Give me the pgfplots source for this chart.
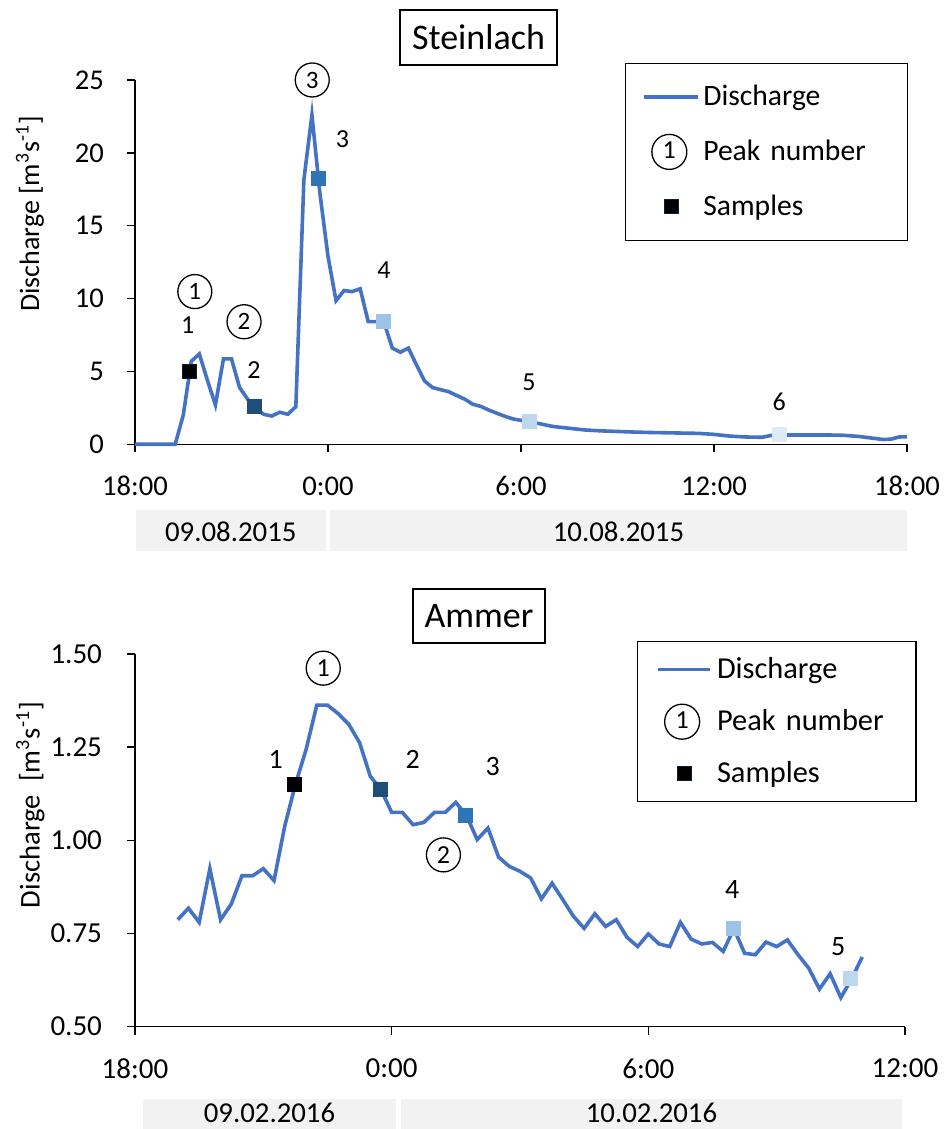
\documentclass[border=0pt]{standalone}
\usepackage{pgfplots}
\pgfplotsset{compat=1.18}
\usepackage{fontspec}
\setmainfont{Carlito}

\definecolor{qline}{HTML}{4472C4}
\definecolor{sB}{HTML}{1F4E79}
\definecolor{sC}{HTML}{2E75B6}
\definecolor{sD}{HTML}{9DC3E6}
\definecolor{sE}{HTML}{BDD7EE}
\definecolor{sF}{HTML}{DEEBF7}
\definecolor{navy}{HTML}{0B1F3A}
\definecolor{datebox}{HTML}{F2F2F2}

% discharge series, hours after 18:00 of the first day
\pgfplotstableread{
h q
0 0
0.25 0
0.5 0
0.75 0
1.0 0
1.25 0
1.5 2.0
1.75 5.7
2.0 6.2
2.25 4.4
2.5 2.7
2.75 5.86
3.0 5.86
3.25 3.9
3.5 3.1
3.75 2.45
4.0 2.06
4.25 1.94
4.5 2.2
4.75 2.06
5.0 2.58
5.25 18.15
5.5 22.6
5.75 17.2
6.0 12.9
6.25 9.86
6.5 10.55
6.75 10.48
7.0 10.67
7.25 8.42
7.5 8.42
7.75 8.3
8.0 6.6
8.25 6.32
8.5 6.6
8.75 5.45
9.0 4.35
9.25 3.89
9.5 3.75
9.75 3.61
10.0 3.35
10.25 3.1
10.5 2.75
10.75 2.6
11.0 2.35
11.25 2.13
11.5 1.92
11.75 1.74
12.0 1.64
12.25 1.55
12.5 1.45
12.75 1.33
13.0 1.22
13.5 1.10
14.0 0.98
14.5 0.92
15.0 0.88
15.5 0.84
16.0 0.81
16.5 0.79
17.0 0.77
17.5 0.75
18.0 0.68
18.5 0.56
19.0 0.50
19.5 0.48
19.75 0.60
20.0 0.64
20.5 0.64
21.0 0.64
21.5 0.64
22.0 0.62
22.5 0.54
23.0 0.40
23.25 0.33
23.5 0.35
23.75 0.50
24.0 0.52
}\steinlach

\pgfplotstableread{
h q
1.00 0.787
1.25 0.818
1.50 0.780
1.75 0.924
2.00 0.787
2.25 0.829
2.50 0.905
2.75 0.905
3.00 0.924
3.25 0.892
3.50 1.038
3.75 1.150
4.00 1.244
4.25 1.363
4.50 1.363
4.75 1.340
5.00 1.311
5.25 1.262
5.50 1.172
5.75 1.136
6.00 1.075
6.25 1.075
6.50 1.042
6.75 1.048
7.00 1.075
7.25 1.075
7.50 1.102
7.75 1.066
8.00 1.002
8.25 1.033
8.50 0.955
8.75 0.930
9.00 0.917
9.25 0.899
9.50 0.843
9.75 0.885
10.00 0.841
10.25 0.796
10.50 0.764
10.75 0.803
11.00 0.769
11.25 0.787
11.50 0.740
11.75 0.715
12.00 0.749
12.25 0.722
12.50 0.715
12.75 0.780
13.00 0.735
13.25 0.722
13.50 0.726
13.75 0.702
14.00 0.763
14.25 0.697
14.50 0.693
14.75 0.727
15.00 0.715
15.25 0.733
15.50 0.693
15.75 0.657
16.00 0.601
16.25 0.642
16.50 0.578
16.75 0.628
17.00 0.687
}\ammer

\tikzset{
  peak/.style={circle, draw, line width=0.65pt, inner sep=0pt,
    minimum size=16.5pt, text width=, anchor=center},
}
\pgfplotsset{
  hydro/.style={
    scale only axis,
    anchor=south west,
    axis lines*=left,
    axis line style={-, black, line width=0.7pt},
    tick style={black, line width=0.7pt},
    tick align=outside,
    major tick length=4pt,
    clip=false,
    /pgf/number format/assume math mode=true,
    legend cell align=left,
  },
  sample/.style={only marks, mark=square*, mark size=3.5pt,
    mark options={fill=#1, draw=#1, line width=0.5pt}, forget plot},
}

\newcommand{\legendimages}[1]{%
  \addlegendimage{legend image code/.code={%
    \draw[qline, line width=1.8pt] (0pt,0pt) -- (#1,0pt);}}
  \addlegendentry{Discharge}
  \addlegendimage{legend image code/.code={%
    \path[draw=none, fill=none] (0pt,0pt) (#1,0pt);
    \node[peak, draw=black, minimum height=17.5pt, minimum width=17.5pt,
      font=\fontsize{13}{13}\selectfont] at (0.46*#1,0pt) {1};}}
  \addlegendentry{Peak number}
  \addlegendimage{legend image code/.code={%
    \path[draw=none, fill=none] (0pt,0pt) (#1,0pt);
    \path plot[only marks, mark=square*, mark size=3.5pt,
      mark options={fill=black, draw=navy, line width=0.6pt}]
      coordinates {(0.5*#1,0pt)};}}
  \addlegendentry{Samples}
}

\begin{document}
\begin{tikzpicture}
\path[use as bounding box] (0,0) rectangle (473pt,564.5pt);

% ---------------- Steinlach ----------------
\begin{axis}[hydro,
  at={(67.5pt,342.35pt)}, width=386pt, height=182.15pt,
  xmin=0, xmax=24, ymin=0, ymax=25,
  xtick={0,6,12,18,24}, xticklabels={18:00,0:00,6:00,12:00,18:00},
  ytick={0,5,10,15,20,25},
  ticklabel style={font=\fontsize{14.3}{16}\selectfont},
  xticklabel style={anchor=center, yshift=-17pt},
  yticklabel style={anchor=east, xshift=-8pt},
  ylabel={Discharge [m\textsuperscript{3}s\textsuperscript{-1}]},
  ylabel style={at={(axis description cs:-0.136,0.632)}, anchor=center,
    font=\fontsize{14}{16}\selectfont},
  legend style={at={(axis description cs:0.6347,1.0475)}, anchor=north west,
    draw=black, line width=0.7pt, inner xsep=8.5pt, inner ysep=3pt,
    row sep=0pt, font=\fontsize{14.8}{16}\selectfont,
    /tikz/every odd column/.append style={column sep=1.5pt},
    nodes={inner sep=0pt, minimum height=27.5pt, text width=93.5pt, anchor=west}},
]
\legendimages{27pt}
\addplot[qline, line width=1.8pt, forget plot] table[x=h, y=q] {\steinlach};

\addplot[sample=black, mark options={draw=navy}] coordinates {(1.69,5.0)};
\addplot[sample=sB] coordinates {(3.70,2.58)};
\addplot[sample=sC] coordinates {(5.70,18.27)};
\addplot[sample=sD] coordinates {(7.72,8.42)};
\addplot[sample=sE] coordinates {(12.26,1.55)};
\addplot[sample=sF] coordinates {(20.03,0.64)};

\begin{scope}[every node/.style={font=\fontsize{13}{14}\selectfont}]
\node at (axis cs:1.64,8.19) {1};
\node at (axis cs:3.70,5.10) {2};
\node at (axis cs:6.45,20.95) {3};
\node at (axis cs:7.74,11.97) {4};
\node at (axis cs:12.25,4.23) {5};
\node at (axis cs:20.03,2.93) {6};
\end{scope}
\begin{scope}[every node/.style={peak, minimum size=17pt, font=\fontsize{12.5}{12}\selectfont}]
\node at (axis cs:1.86,10.48) {1};
\node at (axis cs:3.39,8.41) {2};
\node at (axis cs:5.51,25.0) {3};
\end{scope}
\end{axis}

% ---------------- Ammer ----------------
\begin{axis}[hydro,
  at={(67.5pt,51.15pt)}, width=385pt, height=186.35pt,
  xmin=0, xmax=18, ymin=0.5, ymax=1.5,
  xtick={0,6,12,18}, xticklabels={18:00,0:00,6:00,12:00},
  ytick={0.5,0.75,1,1.25,1.5},
  ticklabel style={font=\fontsize{14.5}{16}\selectfont},
  xticklabel style={anchor=center, yshift=-17pt},
  yticklabel style={/pgf/number format/fixed, /pgf/number format/fixed zerofill,
    /pgf/number format/precision=2, anchor=east, xshift=-9pt},
  ylabel={Discharge\ \ [m\textsuperscript{3}s\textsuperscript{-1}]},
  ylabel style={at={(axis description cs:-0.136,0.595)}, anchor=center,
    font=\fontsize{14.3}{16}\selectfont},
  legend style={at={(axis description cs:0.6516,1.0349)}, anchor=north west,
    draw=black, line width=0.7pt, inner xsep=9.5pt, inner ysep=1pt,
    row sep=0pt, font=\fontsize{15.2}{17}\selectfont,
    /tikz/every odd column/.append style={column sep=2.5pt},
    nodes={inner sep=0pt, minimum height=26pt, text width=90pt, anchor=west}},
]
\legendimages{26pt}
\addplot[qline, line width=1.8pt, forget plot] table[x=h, y=q] {\ammer};

\addplot[sample=black] coordinates {(3.74,1.150)};
\addplot[sample=sB] coordinates {(5.74,1.136)};
\addplot[sample=sC] coordinates {(7.73,1.066)};
\addplot[sample=sD] coordinates {(13.98,0.763)};
\addplot[sample=sE] coordinates {(16.72,0.628)};

\begin{scope}[every node/.style={font=\fontsize{14}{16}\selectfont}]
\node at (axis cs:3.29,1.217) {1};
\node at (axis cs:6.49,1.217) {2};
\node at (axis cs:8.36,1.198) {3};
\node at (axis cs:13.96,0.867) {4};
\node at (axis cs:16.44,0.715) {5};
\end{scope}
\begin{scope}[every node/.style={peak, minimum size=17pt, font=\fontsize{13}{12}\selectfont}]
\node at (axis cs:4.40,1.462) {1};
\node at (axis cs:7.21,0.961) {2};
\end{scope}
\end{axis}

% titles and date bands, in picture coordinates (x right, y down)
\begin{scope}[x=0.5pt, y=-0.5pt, shift={(0pt,564.5pt)}]
\node[draw, line width=0.8pt, minimum width=78.5pt, minimum height=27.5pt,
  inner sep=0pt, font=\fontsize{18}{20}\selectfont] at (478.5,37.5) {Steinlach};
\node[draw, line width=0.8pt, minimum width=66pt, minimum height=27pt,
  inner sep=0pt, font=\fontsize{18}{20}\selectfont] at (478.9,616.3) {Ammer};

\fill[datebox] (136,510) rectangle (325.5,551);
\fill[datebox] (330,510) rectangle (907,551);
\node[font=\fontsize{14.4}{16}\selectfont] at (230.8,531.5) {09.08.2015};
\node[font=\fontsize{14.4}{16}\selectfont] at (618.5,531.5) {10.08.2015};

\fill[datebox] (143,1099) rectangle (396,1129);
\fill[datebox] (401,1099) rectangle (902,1129);
\node[font=\fontsize{14.4}{16}\selectfont] at (269.5,1112.5) {09.02.2016};
\node[font=\fontsize{14.4}{16}\selectfont] at (651.5,1112.5) {10.02.2016};
\end{scope}
\end{tikzpicture}
\end{document}
